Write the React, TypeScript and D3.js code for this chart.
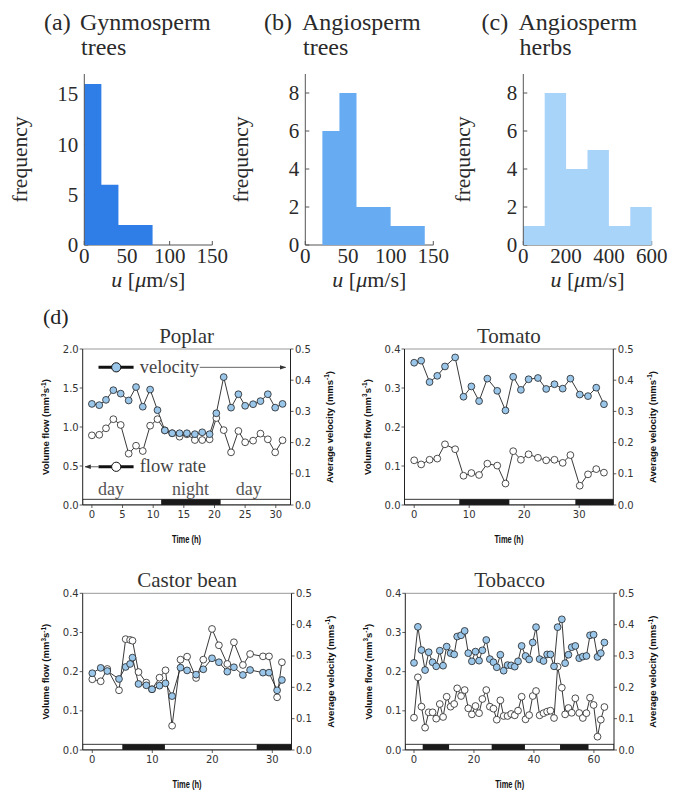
import React from "react";
import * as d3 from "d3";

// ---------- Histogram data ----------
const gymEdges = [0, 20, 40, 60, 80, 100, 120, 140];
const gymCounts = [16, 6, 2, 2, 0, 0, 0];
const angTreeEdges = [0, 20, 40, 60, 80, 100, 120, 140];
const angTreeCounts = [0, 6, 8, 2, 2, 1, 1];
const herbEdges = [0, 100, 200, 300, 400, 500, 600];
const herbCounts = [1, 8, 4, 5, 1, 2];
const histXTicksA = [0, 50, 100, 150];
const histXTicksC = [0, 200, 400, 600];
const histYTicksA = [0, 5, 10, 15];
const histYTicksB = [0, 2, 4, 6, 8];

// ---------- Time series data ----------
const poplarTime = [0, 1.2, 2.3, 3.5, 4.7, 6.0, 7.2, 8.3, 9.5, 10.7, 11.9, 13.1, 14.3, 15.5, 16.8, 18.0, 19.2, 20.3, 21.5, 22.7, 23.9, 25.0, 26.3, 27.5, 28.7, 29.9, 31.1];
const poplarVelocity = [0.324, 0.32, 0.337, 0.368, 0.357, 0.335, 0.378, 0.315, 0.37, 0.304, 0.239, 0.23, 0.23, 0.23, 0.227, 0.233, 0.227, 0.294, 0.41, 0.312, 0.355, 0.318, 0.323, 0.333, 0.355, 0.312, 0.324];
const poplarFlow = [0.893, 0.9, 0.983, 1.1, 1.026, 0.658, 0.76, 0.692, 1.017, 1.1, 0.957, 0.92, 0.876, 0.906, 0.833, 0.833, 0.842, 1.115, 0.96, 0.675, 0.949, 0.804, 0.825, 0.915, 0.842, 0.675, 0.83];
const poplarNights = [[11.3, 21.0]];

const tomatoTime = [0, 1.27, 2.8, 4.2, 5.6, 7.45, 8.97, 10.4, 11.8, 13.3, 15.1, 16.6, 18.0, 19.4, 20.8, 22.5, 24.0, 25.5, 27.0, 28.4, 30.1, 31.6, 33.1, 34.5];
const tomatoVelocity = [0.456, 0.4625, 0.394, 0.414, 0.444, 0.473, 0.347, 0.38, 0.333, 0.405, 0.366, 0.303, 0.411, 0.369, 0.403, 0.407, 0.372, 0.387, 0.373, 0.405, 0.354, 0.349, 0.376, 0.323];
const tomatoFlow = [0.1146, 0.104, 0.116, 0.119, 0.1556, 0.143, 0.075, 0.082, 0.077, 0.106, 0.101, 0.055, 0.138, 0.116, 0.13, 0.121, 0.1146, 0.116, 0.108, 0.128, 0.0495, 0.0786, 0.092, 0.083];
const tomatoNights = [[8.2, 17.3], [29.3, 40]];

const castorTime = [0, 1.4, 2.5, 4.45, 5.56, 6.3, 6.7, 7.7, 9.0, 9.95, 11.2, 12.2, 13.3, 14.7, 15.8, 17.3, 18.5, 19.95, 21.1, 22.5, 23.6, 25.1, 26.3, 28.45, 29.45, 30.8, 31.6];
const castorVelocity = [0.245, 0.262, 0.252, 0.2266, 0.265, 0.2745, 0.2947, 0.2107, 0.2064, 0.1937, 0.2053, 0.2128, 0.172, 0.2628, 0.254, 0.2404, 0.2575, 0.2926, 0.28, 0.25, 0.264, 0.2394, 0.2553, 0.2468, 0.2468, 0.1905, 0.2234];
const castorFlow = [0.1805, 0.1754, 0.2068, 0.1524, 0.283, 0.281, 0.279, 0.199, 0.172, 0.155, 0.1846, 0.2034, 0.062, 0.2306, 0.2383, 0.1838, 0.2306, 0.309, 0.2673, 0.2196, 0.275, 0.217, 0.245, 0.239, 0.239, 0.1345, 0.224];
const castorNights = [[5.0, 12.1], [27.4, 40]];

const tobaccoTime = [0, 1.3, 2.5, 3.7, 4.9, 6.2, 7.4, 8.6, 9.7, 10.9, 12.2, 13.4, 14.4, 15.7, 16.9, 18.1, 19.3, 20.5, 21.7, 22.8, 24.1, 25.3, 26.5, 27.6, 28.8, 29.9, 31.2, 32.4, 33.6, 34.7, 35.9, 37.2, 38.4, 39.6, 40.7, 41.9, 43.2, 44.4, 45.5, 46.7, 47.9, 49.3, 50.4, 51.5, 52.6, 53.8, 55.1, 56.3, 57.5, 58.7, 59.9, 61.2, 62.3, 63.5];
const tobaccoVelocity = [0.278, 0.393, 0.319, 0.255, 0.312, 0.28, 0.267, 0.317, 0.269, 0.33, 0.309, 0.305, 0.362, 0.366, 0.38, 0.309, 0.283, 0.314, 0.285, 0.318, 0.351, 0.29, 0.28, 0.264, 0.304, 0.253, 0.271, 0.27, 0.266, 0.283, 0.332, 0.3, 0.289, 0.343, 0.392, 0.29, 0.284, 0.305, 0.305, 0.267, 0.392, 0.417, 0.277, 0.304, 0.328, 0.332, 0.293, 0.298, 0.3, 0.366, 0.368, 0.297, 0.309, 0.343];
const tobaccoFlow = [0.0825, 0.1856, 0.1106, 0.057, 0.0962, 0.0962, 0.08, 0.1174, 0.0843, 0.136, 0.1106, 0.1174, 0.1574, 0.1378, 0.153, 0.1064, 0.091, 0.1123, 0.094, 0.1302, 0.153, 0.1106, 0.1055, 0.0774, 0.1268, 0.0868, 0.0868, 0.092, 0.0885, 0.1004, 0.136, 0.0783, 0.089, 0.1378, 0.1506, 0.0885, 0.094, 0.098, 0.1004, 0.0817, 0.2127, 0.159, 0.091, 0.1072, 0.095, 0.132, 0.0945, 0.0817, 0.094, 0.1336, 0.115, 0.034, 0.0774, 0.1097];
const tobaccoNights = [[2.9, 11.7], [25.9, 37.0], [48.7, 58.2]];

const velocityTicks = [0, 0.1, 0.2, 0.3, 0.4, 0.5];
const flowTicksSmall = [0, 0.1, 0.2, 0.3, 0.4];
const flowTicksPoplar = [0, 0.5, 1.0, 1.5, 2.0];

const SERIF = "'Liberation Serif', 'DejaVu Serif', serif";
const SANS = "'DejaVu Sans', sans-serif";
const ARIAL = "'Liberation Sans', Arial, sans-serif";
const BLUE = "#9ac6ea";

type HistProps = {
  left: number; right: number; edges: number[]; counts: number[]; xMax: number; yMax: number;
  xTicks: number[]; yTicks: number[]; color: string; tag: string; tagX: number; name1: string; name2: string; nameX: number; ylabX: number;
};

function Hist(p: HistProps) {
  const top = 74, bottom = 245;
  const x = d3.scaleLinear().domain([0, p.xMax]).range([p.left, p.right]);
  const y = d3.scaleLinear().domain([0, p.yMax]).range([bottom, top]);
  const axisColor = "#555";
  // step outline of the histogram (single path, no seams between equal bins)
  const stepData: [number, number][] = p.counts.map((c, i) => [p.edges[i], c]);
  stepData.push([p.edges[p.edges.length - 1], p.counts[p.counts.length - 1]]);
  const area = d3.area<[number, number]>()
    .x((d) => x(d[0]))
    .y0(bottom)
    .y1((d) => y(d[1]))
    .curve(d3.curveStepAfter);
  return (
    <g>
      <text x={p.tagX} y={30} fontFamily={SERIF} fontSize={24} fill="#2a2a2a">{p.tag}</text>
      <text x={p.nameX} y={30} fontFamily={SERIF} fontSize={24} fill="#2a2a2a">{p.name1}</text>
      <text x={p.nameX + 1} y={55} fontFamily={SERIF} fontSize={24} fill="#2a2a2a">{p.name2}</text>
      <line x1={p.left} x2={p.right} y1={bottom} y2={bottom} stroke={axisColor} strokeWidth={1} />
      {p.xTicks.map((t) => (
        <line key={"xt" + t} x1={x(t)} x2={x(t)} y1={bottom} y2={bottom - 4} stroke={axisColor} strokeWidth={1} />
      ))}
      {p.yTicks.map((t) => (
        <line key={"yt" + t} x1={p.left} x2={p.left + 4} y1={y(t)} y2={y(t)} stroke={axisColor} strokeWidth={1} />
      ))}
      <path d={area(stepData) || ""} fill={p.color} />
      <line x1={p.left} x2={p.left} y1={top} y2={bottom} stroke={axisColor} strokeWidth={1} />
      {p.xTicks.map((t) => (
        <text key={"xl" + t} x={x(t)} y={263} textAnchor="middle" fontFamily={SERIF} fontSize={21} fill="#2a2a2a">{t}</text>
      ))}
      {p.yTicks.map((t) => (
        <text key={"yl" + t} x={p.left - 6} y={y(t)} dy="0.35em" textAnchor="end" fontFamily={SERIF} fontSize={21} fill="#2a2a2a">{t}</text>
      ))}
      <text transform={`translate(${p.ylabX},${(top + bottom) / 2}) rotate(-90)`} dy="0.3em" textAnchor="middle" fontFamily={SERIF} fontSize={21.5} fill="#2a2a2a">frequency</text>
      <text x={(p.left + p.right) / 2} y={287} textAnchor="middle" fontFamily={SERIF} fontSize={22} fill="#2a2a2a">
        <tspan fontStyle="italic">u</tspan> [<tspan fontStyle="italic">μ</tspan>m/s]
      </text>
    </g>
  );
}

type PanelProps = {
  left: number; right: number; top: number; bottom: number; xDomain: [number, number]; xTicks: number[];
  leftMax: number; leftTicks: number[]; fmt: (v: number) => string; title: string;
  time: number[]; vel: number[]; flow: number[]; nights: number[][]; legend?: boolean;
};

function Panel(p: PanelProps) {
  const x = d3.scaleLinear().domain(p.xDomain).range([p.left, p.right]);
  const yL = d3.scaleLinear().domain([0, p.leftMax]).range([p.bottom, p.top]);
  const yR = d3.scaleLinear().domain([0, 0.5]).range([p.bottom, p.top]);
  const flowPts: [number, number][] = p.time.map((t, i) => [x(t), yL(p.flow[i])]);
  const velPts: [number, number][] = p.time.map((t, i) => [x(t), yR(p.vel[i])]);
  const line = d3.line();
  const stripH = 5.7;
  const ink = "#222";
  const tickC = "#333";
  const clipId = "clip" + p.title.replace(/\s/g, "");
  const cy = (p.top + p.bottom) / 2;
  return (
    <g>
      <defs>
        <clipPath id={clipId}><rect x={p.left} y={p.top} width={p.right - p.left} height={p.bottom - p.top} /></clipPath>
      </defs>
      <text x={(p.left + p.right) / 2} y={p.top - 6} textAnchor="middle" fontFamily={SERIF} fontSize={21} fill="#333">{p.title}</text>
      {/* day/night strip */}
      <g clipPath={`url(#${clipId})`}>
        <rect x={p.left} y={p.bottom - stripH} width={p.right - p.left} height={stripH} fill="#fff" stroke={ink} strokeWidth={0.9} />
        {p.nights.map((n, i) => (
          <rect key={"n" + i} x={x(n[0])} y={p.bottom - stripH} width={x(n[1]) - x(n[0])} height={stripH} fill="#1a1a1a" />
        ))}
      </g>
      {p.legend ? <Legend x={x} y={yL} /> : null}
      <path d={line(flowPts) || ""} fill="none" stroke={ink} strokeWidth={0.9} />
      <path d={line(velPts) || ""} fill="none" stroke={ink} strokeWidth={0.9} />
      {flowPts.map((q, i) => <circle key={"f" + i} cx={q[0]} cy={q[1]} r={3.4} fill="#fff" stroke={ink} strokeWidth={0.8} />)}
      {velPts.map((q, i) => <circle key={"v" + i} cx={q[0]} cy={q[1]} r={3.4} fill={BLUE} stroke={ink} strokeWidth={0.8} />)}
      {/* spines */}
      <line x1={p.left} x2={p.right} y1={p.top} y2={p.top} stroke="#999" strokeWidth={1} />
      <line x1={p.left} x2={p.left} y1={p.top} y2={p.bottom} stroke={ink} strokeWidth={1} />
      <line x1={p.right} x2={p.right} y1={p.top} y2={p.bottom} stroke={ink} strokeWidth={1} />
      <line x1={p.left} x2={p.right} y1={p.bottom} y2={p.bottom} stroke={ink} strokeWidth={1} />
      {/* ticks */}
      {p.xTicks.map((t) => (
        <g key={"xt" + t}>
          <line x1={x(t)} x2={x(t)} y1={p.bottom} y2={p.bottom + 3} stroke={tickC} strokeWidth={0.8} />
          <text x={x(t)} y={p.bottom + 12.5} textAnchor="middle" fontFamily={SANS} fontSize={10} fill="#333">{t}</text>
        </g>
      ))}
      {p.leftTicks.map((t) => (
        <g key={"yl" + t}>
          <line x1={p.left} x2={p.left - 3} y1={yL(t)} y2={yL(t)} stroke={tickC} strokeWidth={0.8} />
          <text x={p.left - 4} y={yL(t)} dy="0.35em" textAnchor="end" fontFamily={SANS} fontSize={10} fill="#333">{p.fmt(t)}</text>
        </g>
      ))}
      {velocityTicks.map((t) => (
        <g key={"yr" + t}>
          <line x1={p.right} x2={p.right + 3} y1={yR(t)} y2={yR(t)} stroke={tickC} strokeWidth={0.8} />
          <text x={p.right + 4.5} y={yR(t)} dy="0.35em" textAnchor="start" fontFamily={SANS} fontSize={10} fill="#333">{t.toFixed(1)}</text>
        </g>
      ))}
      <text x={(p.left + p.right) / 2} y={p.bottom + 38} textAnchor="middle" fontFamily={ARIAL} fontWeight="bold" fontSize={10} textLength={29} lengthAdjust="spacingAndGlyphs" fill="#111">Time (h)</text>
      <text transform={`translate(${p.left - 37},${cy}) rotate(-90)`} dy="0.35em" textAnchor="middle" fontFamily={ARIAL} fontWeight="bold" fontSize={9.5} fill="#111">
        Volume flow (mm<tspan fontSize={6.5} dy={-3.5}>3</tspan><tspan dy={3.5}>s</tspan><tspan fontSize={6.5} dy={-3.5}>-1</tspan><tspan dy={3.5}>)</tspan>
      </text>
      <text transform={`translate(${p.right + 39},${cy}) rotate(-90)`} dy="0.35em" textAnchor="middle" fontFamily={ARIAL} fontWeight="bold" fontSize={9.5} fill="#111">
        Average velocity (mms<tspan fontSize={6.5} dy={-3.5}>-1</tspan><tspan dy={3.5}>)</tspan>
      </text>
    </g>
  );
}

// legend annotation positions in Poplar data units (hours, flow units)
const legendVelY = 1.765;
const legendFlowY = 0.49;
const dayNightLabels = [{ t: 3.1, s: "day" }, { t: 16.1, s: "night" }, { t: 25.6, s: "day" }];

function Legend({ x, y }: { x: d3.ScaleLinear<number, number>; y: d3.ScaleLinear<number, number> }) {
  const gray = "#555";
  return (
    <g>
      <defs>
        <marker id="arrowR" viewBox="0 0 10 10" refX="9" refY="5" markerWidth="7" markerHeight="7" orient="auto">
          <path d="M0,1.5 L10,5 L0,8.5 z" fill="#333" />
        </marker>
      </defs>
      <line x1={x(1.08)} x2={x(6.8)} y1={y(legendVelY)} y2={y(legendVelY)} stroke="#111" strokeWidth={3} />
      <circle cx={x(3.97)} cy={y(legendVelY)} r={4.6} fill={BLUE} stroke="#111" strokeWidth={1} />
      <text x={x(7.8)} y={y(legendVelY)} dy="0.3em" fontFamily={SERIF} fontSize={18.5} fill="#444">velocity</text>
      <line x1={x(17.6)} x2={x(31.6)} y1={y(legendVelY)} y2={y(legendVelY)} stroke={gray} strokeWidth={0.9} markerEnd="url(#arrowR)" />
      <line x1={x(1.08)} x2={x(6.8)} y1={y(legendFlowY)} y2={y(legendFlowY)} stroke="#111" strokeWidth={3} />
      <line x1={x(1.08)} x2={x(-1.1)} y1={y(legendFlowY)} y2={y(legendFlowY)} stroke={gray} strokeWidth={0.9} markerEnd="url(#arrowR)" />
      <circle cx={x(3.97)} cy={y(legendFlowY)} r={4.6} fill="#fff" stroke="#111" strokeWidth={1} />
      <text x={x(7.8)} y={y(legendFlowY)} dy="0.3em" fontFamily={SERIF} fontSize={18.5} fill="#444">flow rate</text>
      {dayNightLabels.map((d, i) => (
        <text key={i} x={x(d.t)} y={y(0.128)} textAnchor="middle" fontFamily={SERIF} fontSize={18} fill="#555">{d.s}</text>
      ))}
    </g>
  );
}

export default function App() {
  return (
    <div style={{ position: "absolute", left: 0, top: 0 }}>
      <svg width={679} height={793} style={{ display: "block", background: "#fff" }}>
        <Hist left={84.3} right={212.3} edges={gymEdges} counts={gymCounts} xMax={150} yMax={17} xTicks={histXTicksA} yTicks={histYTicksA}
          color="#2f7de7" tag="(a)" tagX={44} name1="Gynmosperm" name2="trees" nameX={80} ylabX={21} />
        <Hist left={305.3} right={433.3} edges={angTreeEdges} counts={angTreeCounts} xMax={150} yMax={9} xTicks={histXTicksA} yTicks={histYTicksB}
          color="#67acf2" tag="(b)" tagX={264} name1="Angiosperm" name2="trees" nameX={302} ylabX={242} />
        <Hist left={523.3} right={651.7} edges={herbEdges} counts={herbCounts} xMax={600} yMax={9} xTicks={histXTicksC} yTicks={histYTicksB}
          color="#a9d4fa" tag="(c)" tagX={481.5} name1="Angiosperm" name2="herbs" nameX={518.5} ylabX={463.5} />
        <text x={43} y={324} fontFamily={SERIF} fontSize={22} fill="#222">(d)</text>
        <Panel left={82.7} right={290.5} top={349} bottom={505} xDomain={[-1.5, 32.4]} xTicks={[0, 5, 10, 15, 20, 25, 30]}
          leftMax={2.0} leftTicks={flowTicksPoplar} fmt={(v) => v.toFixed(1)} title="Poplar"
          time={poplarTime} vel={poplarVelocity} flow={poplarFlow} nights={poplarNights} legend />
        <Panel left={404.5} right={613.3} top={349} bottom={505} xDomain={[-1.76, 36.2]} xTicks={[0, 10, 20, 30]}
          leftMax={0.4} leftTicks={flowTicksSmall} fmt={(v) => v.toFixed(1)} title="Tomato"
          time={tomatoTime} vel={tomatoVelocity} flow={tomatoFlow} nights={tomatoNights} />
        <Panel left={82.7} right={291.5} top={593.3} bottom={750} xDomain={[-1.6, 33.2]} xTicks={[0, 10, 20, 30]}
          leftMax={0.4} leftTicks={flowTicksSmall} fmt={(v) => v.toFixed(1)} title="Castor bean"
          time={castorTime} vel={castorVelocity} flow={castorFlow} nights={castorNights} />
        <Panel left={405.3} right={614} top={593.3} bottom={750} xDomain={[-2.9, 66.7]} xTicks={[0, 20, 40, 60]}
          leftMax={0.4} leftTicks={flowTicksSmall} fmt={(v) => v.toFixed(1)} title="Tobacco"
          time={tobaccoTime} vel={tobaccoVelocity} flow={tobaccoFlow} nights={tobaccoNights} />
      </svg>
    </div>
  );
}
